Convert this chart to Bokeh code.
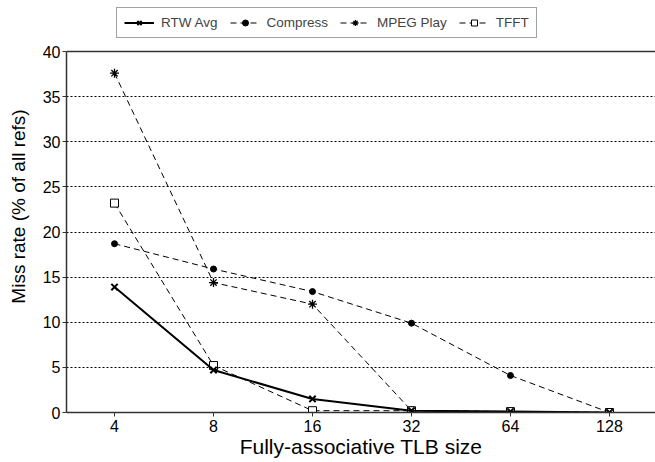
import numpy as np
from bokeh.plotting import figure
from bokeh.models import FixedTicker, Legend, LegendItem, Span, Range1d
from bokeh.embed import file_html
from bokeh.resources import INLINE

sizes = ["4", "8", "16", "32", "64", "128"]
rtw_avg = [13.9, 4.7, 1.5, 0.2, 0.1, 0.0]
compress = [18.7, 15.9, 13.4, 9.9, 4.1, 0.0]
mpeg_play = [37.6, 14.4, 12.0, 0.2, 0.1, 0.0]
tfft = [23.2, 5.2, 0.2, 0.2, 0.1, 0.0]
y_ticks = [0, 5, 10, 15, 20, 25, 30, 35, 40]

xs = list(range(len(sizes)))
FONT = "Liberation Sans"

FRAME_H = 412
Y_TOP = 40 * FRAME_H / 361.0

p = figure(width=655, height=462, output_backend="svg", toolbar_location=None,
           x_range=Range1d(-0.485, 5.465), y_range=Range1d(0, Y_TOP),
           min_border_left=66, min_border_right=0, min_border_top=0, min_border_bottom=50)
p.outline_line_color = None
p.background_fill_color = "white"
p.border_fill_color = "white"

p.xaxis.ticker = FixedTicker(ticks=xs)
p.xaxis.major_label_overrides = {i: s for i, s in enumerate(sizes)}
p.yaxis.ticker = FixedTicker(ticks=y_ticks)
p.yaxis.bounds = (0, 40)
p.xgrid.visible = False
p.ygrid.ticker = FixedTicker(ticks=[5, 10, 15, 20, 25, 30, 35])
p.ygrid.grid_line_color = "black"
p.ygrid.grid_line_dash = "2 2"
p.ygrid.grid_line_width = 1

for ax in (p.xaxis, p.yaxis):
    ax.axis_line_color = "#333333"
    ax.axis_line_width = 1.5
    ax.major_tick_line_color = "#333333"
    ax.major_tick_in = 0
    ax.major_tick_out = 4
    ax.minor_tick_line_color = None
    ax.major_label_text_font = FONT
    ax.major_label_text_font_size = "16px"
    ax.major_label_text_color = "black"
    ax.axis_label_text_font = FONT
    ax.axis_label_text_font_style = "normal"
    ax.axis_label_text_color = "black"
p.xaxis.axis_label = "Fully-associative TLB size"
p.yaxis.axis_label = "Miss rate (% of all refs)"
p.xaxis.axis_label_text_font_size = "21px"
p.yaxis.axis_label_text_font_size = "19px"
p.xaxis.major_label_standoff = 3
p.yaxis.major_label_standoff = 2
p.xaxis.axis_label_standoff = 0
p.yaxis.axis_label_standoff = 11

p.add_layout(Span(location=40, dimension="width", line_color="#333333", line_width=1.5))

items = []
l2 = p.line(xs, compress, line_color="black", line_width=1, line_dash="6 4")
m2 = p.scatter(xs, compress, marker="circle", size=6, fill_color="black", line_color="black")
items.append(("Compress", [l2, m2]))
l3 = p.line(xs, mpeg_play, line_color="black", line_width=1, line_dash="6 4")
m3 = p.scatter(xs, mpeg_play, marker="asterisk", size=9, line_color="black", line_width=1.3)
items.append(("MPEG Play", [l3, m3]))
l4 = p.line(xs, tfft, line_color="black", line_width=1, line_dash="6 4")
m4 = p.scatter(xs, tfft, marker="square", size=8, fill_color="white", line_color="black")
items.append(("TFFT", [l4, m4]))
l1 = p.line(xs, rtw_avg, line_color="black", line_width=2)
m1 = p.scatter(xs, rtw_avg, marker="x", size=9, line_color="black", line_width=2)
items.insert(0, ("RTW Avg", [l1, m1]))

legend = Legend(items=[LegendItem(label=n, renderers=r) for n, r in items],
                orientation="horizontal", location=(50, FRAME_H - 38),
                label_text_font=FONT, label_text_font_size="13.5px",
                glyph_width=30, glyph_height=15, spacing=12, padding=7, margin=0,
                label_standoff=7,
                border_line_color="#444444", border_line_width=1.5,
                background_fill_alpha=1.0)
p.add_layout(legend, "center")

open("out.html", "w").write(file_html(p, INLINE))
